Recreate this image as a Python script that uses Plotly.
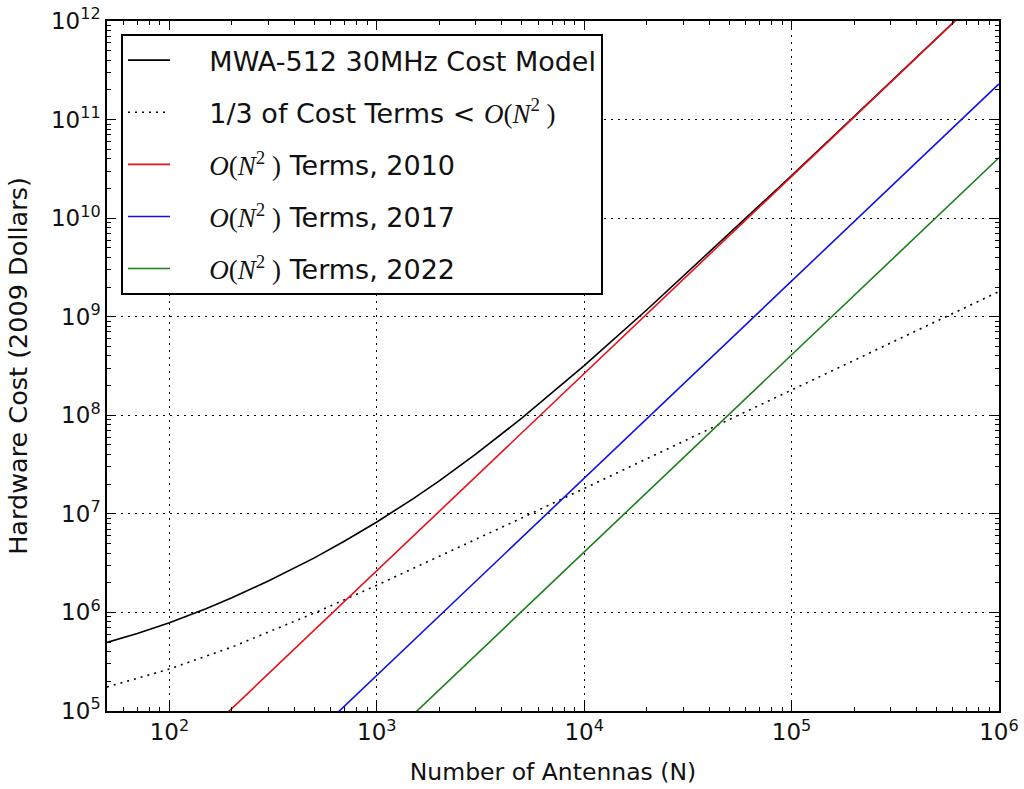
import plotly.graph_objects as go

# Number of antennas sampled along the curves
n_model = [50, 70, 100, 150, 200, 300, 500, 700, 1000, 1500, 2000, 3000, 5000,
           7000, 10000, 20000, 50000, 100000, 200000, 500000, 1000000]
# MWA-512 30 MHz cost model (2009 dollars)
cost_model = [4.97e5, 6.11e5, 7.87e5, 1.09e6, 1.41e6, 2.08e6, 3.58e6, 5.30e6, 8.27e6,
              1.43e7, 2.16e7, 4.03e7, 9.35e7, 1.68e8, 3.19e8, 1.17e9, 6.9e9,
              2.70e10, 1.07e11, 6.66e11, 2.66e12]

n_low = [50, 100, 200, 500, 1000, 2000, 5000, 10000, 100000, 1000000]
third_low = [1.75e5, 2.67e5, 4.45e5, 9.85e5, 1.885e6, 3.685e6, 9.085e6, 1.81e7, 1.8e8, 1.8e9]

n_sq = [100, 1000, 10000, 100000, 1000000]
sq_2010 = [2.65e4, 2.65e6, 2.65e8, 2.65e10, 2.65e12]
sq_2017 = [2.3e3, 2.3e5, 2.3e7, 2.3e9, 2.3e11]
sq_2022 = [4.1e2, 4.1e4, 4.1e6, 4.1e8, 4.1e10]

x_exp = [2, 3, 4, 5, 6]
y_exp = [5, 6, 7, 8, 9, 10, 11, 12]
x_ticks = [10.0 ** e for e in x_exp]
y_ticks = [10.0 ** e for e in y_exp]
x_text = [f"10<sup>{e}</sup>" for e in x_exp]
y_text = [f"10<sup>{e}</sup>" for e in y_exp]

math_on2 = ("<span style=\"font-family:'Liberation Serif'\"><i>O</i>(<i>N</i>"
            "<sup>2</sup> )</span>")
pad = "&nbsp;&nbsp;&nbsp;&nbsp;"
names = [
    pad + "MWA-512 30MHz Cost Model",
    pad + "1/3 of Cost Terms &lt; " + math_on2,
    pad + math_on2 + " Terms, 2010",
    pad + math_on2 + " Terms, 2017",
    pad + math_on2 + " Terms, 2022",
]

fig = go.Figure()
series = [
    (n_model, cost_model, "black", "solid"),
    (n_low, third_low, "black", "2px,5px"),
    (n_sq, sq_2010, "#e8101a", "solid"),
    (n_sq, sq_2017, "#1010e8", "solid"),
    (n_sq, sq_2022, "#1a801a", "solid"),
]
for i, (xs, ys, col, dash) in enumerate(series):
    fig.add_trace(go.Scatter(
        x=xs, y=ys, mode="lines", name=names[i], legendgroup=f"g{i}",
        line=dict(color=col, width=1.6, dash=dash),
    ))

axis_common = dict(
    type="log", automargin=False,
    showline=True, linecolor="black", linewidth=1.5, mirror="allticks",
    ticks="inside", ticklen=9, tickwidth=1.2, tickcolor="black",
    showgrid=True, gridcolor="black", gridwidth=1.3, griddash="2px,5px",
    zeroline=False,
    tickmode="array",
    tickfont=dict(family="DejaVu Sans", size=23, color="#111"),
    minor=dict(ticks="inside", ticklen=4, tickwidth=1, tickcolor="black",
               showgrid=False, dtick="D1"),
)

fig.update_xaxes(
    **axis_common,
    tickvals=x_ticks, ticktext=x_text,
    range=[1.69897, 6.0002],
    title=dict(text="Number of Antennas (N)",
               font=dict(family="DejaVu Sans", size=23.5, color="#111"), standoff=19),
)
fig.update_yaxes(
    **axis_common,
    tickvals=y_ticks, ticktext=y_text,
    range=[5, 12.0002],
    title=dict(text="Hardware Cost (2009 Dollars)",
               font=dict(family="DejaVu Sans", size=25.5, color="#111"), standoff=16),
)

fig.update_layout(
    width=1024, height=789,
    margin=dict(l=107, r=25, t=21, b=78),
    plot_bgcolor="white", paper_bgcolor="white",
    showlegend=True,
    legend=dict(
        x=0.0157, y=0.981, xanchor="left", yanchor="top",
        bgcolor="white", bordercolor="black", borderwidth=2,
        font=dict(family="DejaVu Sans", size=27, color="#111"),
        tracegroupgap=14, itemwidth=42,
    ),
)

fig.write_html("out.html")
